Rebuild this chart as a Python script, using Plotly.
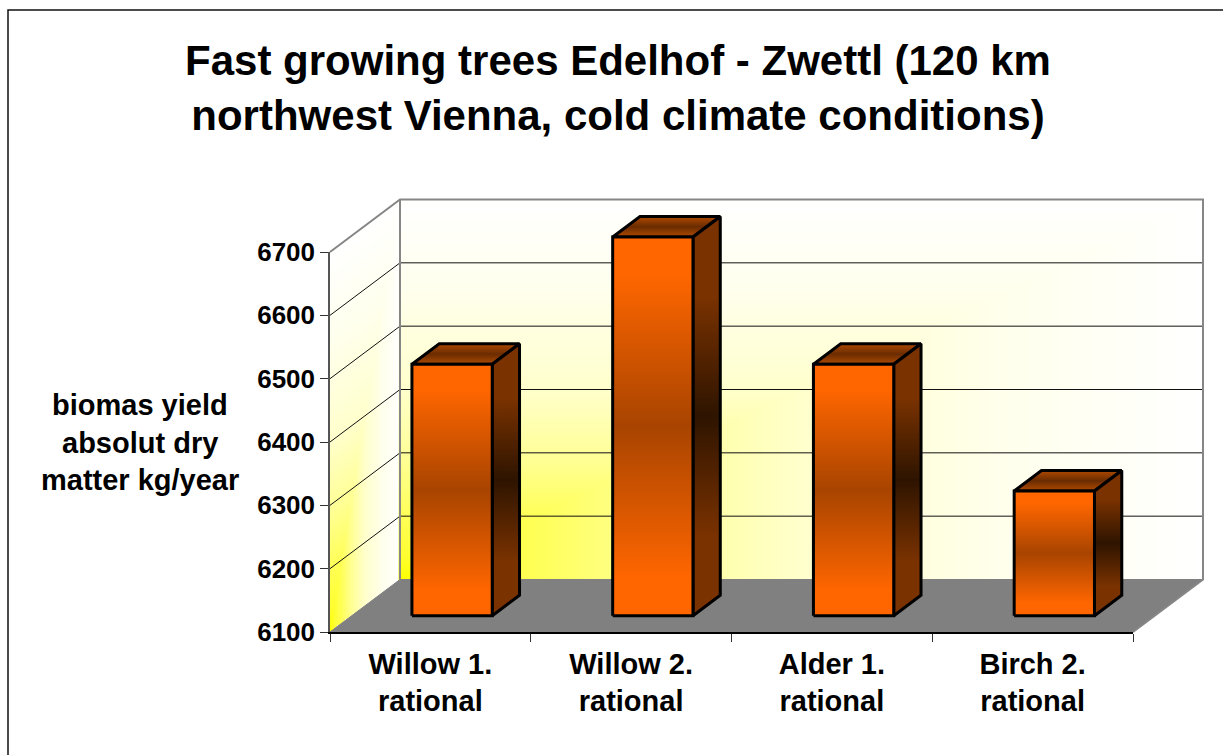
import numpy as np
import plotly.graph_objects as go

title_lines = ["Fast growing trees Edelhof - Zwettl (120 km", "northwest Vienna, cold climate conditions)"]
categories = ["Willow 1.<br>rational", "Willow 2.<br>rational", "Alder 1.<br>rational", "Birch 2.<br>rational"]
yields = [6497, 6698, 6497, 6297]
value_ticks = [6100, 6200, 6300, 6400, 6500, 6600, 6700]
axis_title_lines = ["biomas yield", "absolut dry", "matter kg/year"]

W, H = 1223, 755
FONT = "Liberation Sans"
PX_X0, PX_X1, PX_Y0, PX_Y1 = 330.0, 1133.0, 632.0, 252.0   # plot box on the page
PX_CAT = (PX_X1 - PX_X0) / len(categories)
PX_VAL = (PX_Y0 - PX_Y1) / 600.0
DX = 70.0 / PX_CAT          # full depth, in category units
DY = 52.5 / PX_VAL          # full depth, in value units
VMIN, VMAX = value_ticks[0], value_ticks[-1]
N = len(categories)


def proj(cat, val, depth):
    return cat + depth * DX, val + depth * DY


def poly(points, **kw):
    pts = [proj(*p) for p in points]
    xs = [p[0] for p in pts] + [pts[0][0]]
    ys = [p[1] for p in pts] + [pts[0][1]]
    return go.Scatter(x=xs, y=ys, mode="lines", hoverinfo="skip", showlegend=False, **kw)


def seg(points, color, width):
    pts = [proj(*p) for p in points]
    return go.Scatter(x=[p[0] for p in pts], y=[p[1] for p in pts], mode="lines",
                      line=dict(color=color, width=width), hoverinfo="skip", showlegend=False)


WALL_SCALE = [[0, "#FFFF00"], [0.06, "#FFFF30"], [0.17, "#FFFF58"], [0.3, "#FFFF90"],
              [0.5, "#FFFFCC"], [0.75, "#FFFFEC"], [1, "#FFFFFF"]]

fig = go.Figure()

# left wall shading (background only)
lx = np.linspace(0, DX, 36)
lv = np.linspace(VMIN, VMAX + DY, 220)
LU, LV = np.meshgrid(lx / DX, lv)
rel = (LV - VMIN - LU * DY) / (VMAX - VMIN)
lz = np.maximum(LU, rel)
lz[(rel < 0) | (rel > 1)] = np.nan
fig.add_trace(go.Heatmap(x=lx, y=lv, z=lz, colorscale=WALL_SCALE, zmin=0, zmax=1, showscale=False,
                         hoverinfo="skip", connectgaps=False))
# back wall shading (background only)
bx = np.linspace(0, N, 268)
bv = np.linspace(VMIN, VMAX, 127)
BU, BV = np.meshgrid(bx / N, (bv - VMIN) / (VMAX - VMIN))
fig.add_trace(go.Heatmap(x=bx + DX, y=bv + DY, z=np.maximum(BU, BV), colorscale=WALL_SCALE, zmin=0, zmax=1,
                         showscale=False, hoverinfo="skip"))

# floor
fig.add_trace(poly([(0, VMIN, 0), (0, VMIN, 1), (N, VMIN, 1), (N, VMIN, 0)],
                   fill="toself", fillcolor="#808080", line=dict(color="#808080", width=1)))

# gridlines
for v in value_ticks[1:-1]:
    fig.add_trace(seg([(0, v, 0), (0, v, 1), (N, v, 1)], "#111111", 1))
# wall outlines
fig.add_trace(seg([(0, VMAX, 0), (0, VMAX, 1), (N, VMAX, 1), (N, VMIN, 1), (N, VMIN, 0)], "#868686", 2))
fig.add_trace(seg([(0, VMIN, 1), (0, VMAX, 1)], "#868686", 2))

FRONT = dict(type="vertical", colorscale=[[0, "#FF6600"], [0.1, "#FF6600"], [0.5, "#A84400"], [0.9, "#FF6600"], [1, "#FF6600"]])
SIDE = dict(type="vertical", colorscale=[[0, "#7A3200"], [0.2, "#7A3200"], [0.5, "#2E1400"], [0.8, "#7A3200"], [1, "#7A3200"]])
TOP = dict(type="vertical", colorscale=[[0, "#B04A00"], [0.5, "#6A2C00"], [1, "#B04A00"]])
EDGE = dict(color="#000000", width=3)
HALF, D0, D1 = 0.2, 0.31, 0.7

for i, val in enumerate(yields):
    c = i + 0.5
    l, r = c - HALF, c + HALF
    fig.add_trace(poly([(l, val, D0), (r, val, D0), (r, val, D1), (l, val, D1)], fill="toself", fillgradient=TOP, line=EDGE))
    fig.add_trace(poly([(r, VMIN, D0), (r, VMIN, D1), (r, val, D1), (r, val, D0)], fill="toself", fillgradient=SIDE, line=EDGE))
    fig.add_trace(poly([(l, VMIN, D0), (r, VMIN, D0), (r, val, D0), (l, val, D0)], fill="toself", fillgradient=FRONT, line=EDGE))

# tick carrier on the second axes
fig.add_trace(go.Scatter(x=[0.5, 1.5, 2.5, 3.5], y=yields, xaxis="x2", yaxis="y2", mode="markers",
                         marker=dict(opacity=0), hoverinfo="skip", showlegend=False))

tick_font = dict(family=FONT, size=26, color="#000000", weight=700)
fig.update_layout(
    width=W, height=H, margin=dict(l=0, r=0, t=0, b=0), paper_bgcolor="white", plot_bgcolor="rgba(0,0,0,0)",
    showlegend=False,
    title=dict(text="<br>".join(title_lines), x=618 / W, xanchor="center", xref="paper", y=1 - 75 / H, yanchor="middle", yref="paper",
               font=dict(family=FONT, size=42, color="#000000", weight=700)),
    xaxis=dict(domain=[0, 1], range=[-PX_X0 / PX_CAT, (W - PX_X0) / PX_CAT], visible=False, fixedrange=True, automargin=False),
    yaxis=dict(domain=[0, 1], range=[VMIN - (H - PX_Y0) / PX_VAL, VMIN + PX_Y0 / PX_VAL], visible=False, fixedrange=True, automargin=False),
    xaxis2=dict(domain=[PX_X0 / W, PX_X1 / W], range=[0, N], anchor="y2", automargin=False, ticklabelstandoff=5,
                tickmode="array", tickvals=[0.5, 1.5, 2.5, 3.5], ticktext=categories, ticks="", tickfont=dict(family=FONT, size=29, color="#000000", weight=700),
                showgrid=False, zeroline=False, showline=True, linecolor="#000000", linewidth=1.5,
                minor=dict(tickmode="array", tickvals=[0, 1, 2, 3, 4], ticks="outside", ticklen=8, tickcolor="#333333", tickwidth=1),
                fixedrange=True),
    yaxis2=dict(domain=[(H - PX_Y0) / H, (H - PX_Y1) / H], range=[VMIN, VMAX], anchor="x2", automargin=False,
                tickmode="array", tickvals=value_ticks, ticks="outside", ticklen=8, tickcolor="#333333", tickwidth=1,
                tickfont=tick_font, showgrid=False, zeroline=False, showline=True, linecolor="#555555", linewidth=1.5,
                fixedrange=True),
    shapes=[dict(type="rect", xref="paper", yref="paper", x0=8 / W, x1=1.02, y0=-0.02, y1=1 - 10 / H,
                 line=dict(color="#111111", width=1.5), fillcolor="rgba(0,0,0,0)", layer="below")],
    annotations=[dict(text=t, xref="paper", yref="paper", x=140 / W, y=1 - py / H, showarrow=False, xanchor="center", yanchor="middle",
                      font=dict(family=FONT, size=29, color="#000000", weight=700))
                 for t, py in zip(axis_title_lines, [405, 443, 480])],
)

fig.write_html("out.html", config={"displayModeBar": False},
               post_script="document.body.style.margin='0';document.body.style.overflow='hidden';")
